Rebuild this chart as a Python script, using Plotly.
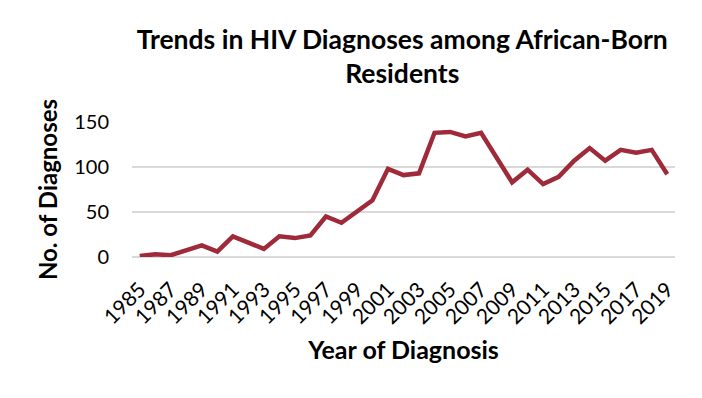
import plotly.graph_objects as go

years = [str(y) for y in range(1985, 2020)]
diagnoses = [1, 3, 2, 7, 13, 6, 23, 16, 9, 23, 21, 24, 45, 38, 51, 63, 98, 91, 93, 138,
             139, 134, 138, 111, 83, 97, 81, 89, 107, 121, 107, 119, 116, 119, 92]
tick_labels = years[::2]

fig = go.Figure(go.Scatter(x=years, y=diagnoses, mode="lines",
                           line=dict(color="#9E2A3A", width=4.5)))
fnt = "Lato, Carlito, 'Open Sans', sans-serif"
fig.update_layout(
    width=702, height=398,
    margin=dict(l=132, r=27, t=122, b=141),
    paper_bgcolor="white", plot_bgcolor="white",
    showlegend=False,
    title=dict(text="<b>Trends in HIV Diagnoses among African-Born<br>Residents</b>",
               x=0.573, xanchor="center", y=0.877, yanchor="middle",
               font=dict(family=fnt, size=26.5, color="black")),
    font=dict(family=fnt, color="black"),
)
fig.update_xaxes(type="category", range=[-0.5, 34.5], tickmode="array",
                 tickvals=tick_labels, ticktext=tick_labels, tickangle=-45,
                 tickfont=dict(size=21), showgrid=False, showline=False,
                 ticks="outside", ticklen=11, tickcolor="rgba(0,0,0,0)",
                 automargin=False,
                 title=dict(text="<b>Year of Diagnosis</b>", font=dict(size=25), standoff=14))
fig.update_yaxes(range=[0, 150], tickvals=[0, 50, 100, 150], tickfont=dict(size=20),
                 showgrid=True, gridcolor="#D9D9D9", gridwidth=1.5, zeroline=True,
                 zerolinecolor="#D9D9D9", zerolinewidth=1.5, showline=False,
                 ticks="outside", ticklen=18, tickcolor="rgba(0,0,0,0)",
                 automargin=False,
                 title=dict(text="<b>No. of Diagnoses</b>", font=dict(size=24), standoff=9))
fig.write_html("out.html")
